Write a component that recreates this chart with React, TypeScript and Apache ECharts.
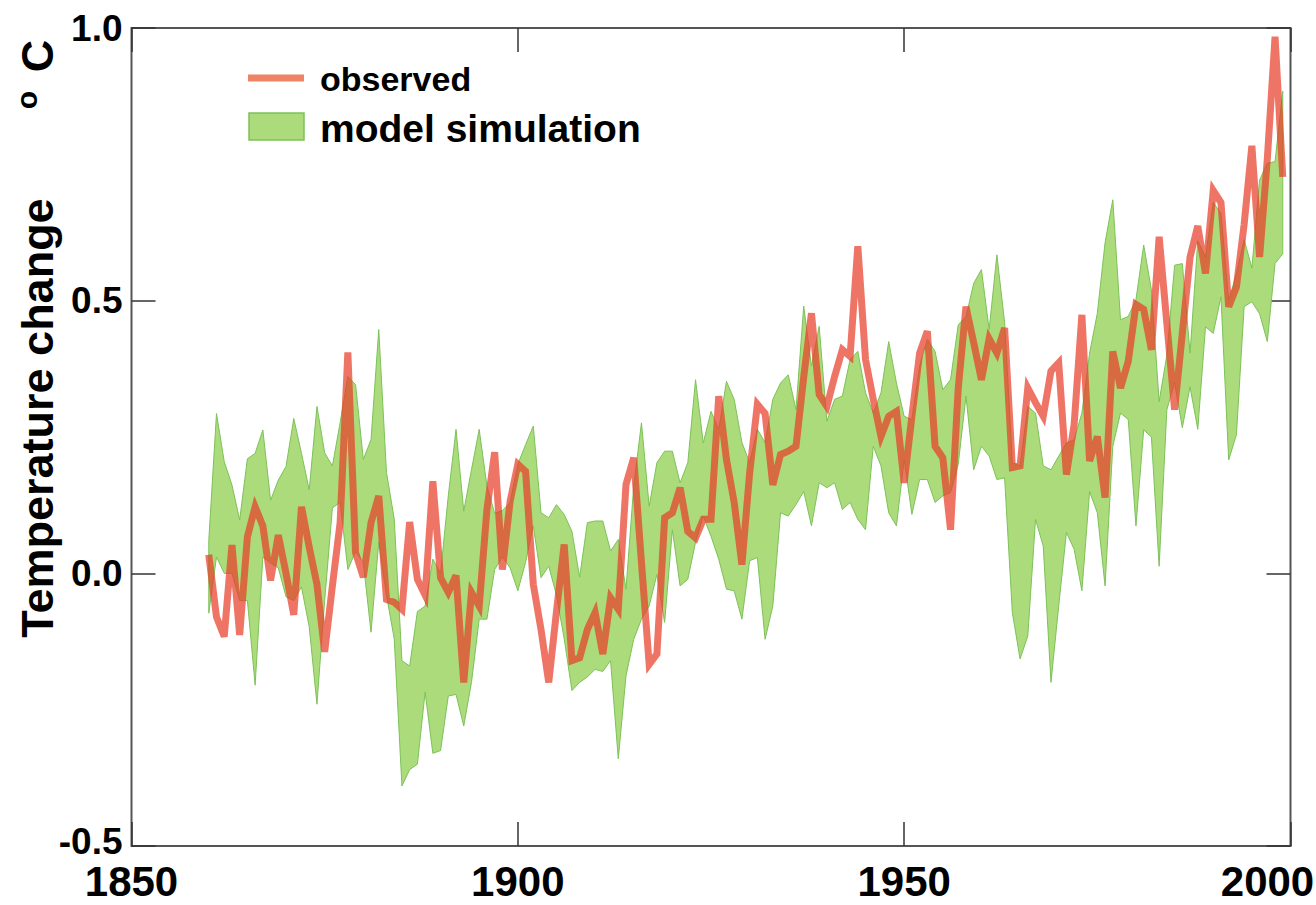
import React, { useEffect, useRef } from "react";
import * as echarts from "echarts";

const FIRST_YEAR = 1860;

const observed = [
  0.034, -0.08, -0.116, 0.052, -0.113, 0.067, 0.122, 0.087, -0.013, 0.07,
  0.0, -0.076, 0.122, 0.048, -0.02, -0.144, -0.023, 0.093, 0.405, 0.038,
  -0.007, 0.093, 0.142, -0.048, -0.053, -0.066, 0.094, -0.011, -0.04, 0.169,
  -0.008, -0.035, -0.004, -0.2, -0.035, -0.06, 0.117, 0.222, 0.007, 0.132,
  0.2, 0.187, -0.02, -0.103, -0.2, -0.07, 0.053, -0.16, -0.155, -0.103,
  -0.072, -0.148, -0.045, -0.066, 0.163, 0.212, 0.02, -0.167, -0.148, 0.102,
  0.111, 0.157, 0.077, 0.065, 0.099, 0.099, 0.325, 0.209, 0.13, 0.016,
  0.184, 0.31, 0.293, 0.162, 0.218, 0.224, 0.233, 0.36, 0.477, 0.328,
  0.306, 0.361, 0.41, 0.398, 0.6, 0.392, 0.319, 0.251, 0.288, 0.297,
  0.166, 0.288, 0.404, 0.444, 0.233, 0.212, 0.08, 0.34, 0.489, 0.423,
  0.355, 0.43, 0.404, 0.45, 0.194, 0.197, 0.34, 0.313, 0.288, 0.371,
  0.386, 0.181, 0.273, 0.474, 0.206, 0.251, 0.139, 0.407, 0.34, 0.389,
  0.493, 0.484, 0.41, 0.617, 0.458, 0.3, 0.44, 0.58, 0.637, 0.55,
  0.702, 0.68, 0.489, 0.525, 0.64, 0.784, 0.58, 0.76, 0.984, 0.727,
];

const modelUpper = [
  0.06, 0.293, 0.205, 0.162, 0.098, 0.21, 0.22, 0.263, 0.134, 0.171,
  0.196, 0.284, 0.22, 0.153, 0.306, 0.221, 0.197, 0.276, 0.361, 0.346,
  0.209, 0.245, 0.447, 0.185, 0.1, -0.16, -0.17, -0.07, -0.06, 0.026,
  0.0, 0.142, 0.264, 0.114, 0.19, 0.264, 0.16, 0.11, 0.115, 0.13,
  0.2, 0.236, 0.27, 0.111, 0.102, 0.126, 0.108, 0.077, -0.007, 0.093,
  0.096, 0.096, 0.041, 0.062, -0.029, 0.16, 0.276, 0.123, 0.203, 0.224,
  0.224, 0.166, 0.203, 0.355, 0.239, 0.297, 0.264, 0.352, 0.319, 0.24,
  0.203, 0.264, 0.24, 0.319, 0.349, 0.364, 0.3, 0.49, 0.38, 0.453,
  0.279, 0.319, 0.325, 0.392, 0.407, 0.331, 0.294, 0.331, 0.425, 0.349,
  0.288, 0.282, 0.38, 0.429, 0.407, 0.337, 0.355, 0.456, 0.47, 0.532,
  0.557, 0.447, 0.584, 0.46, 0.203, 0.197, 0.306, 0.294, 0.197, 0.19,
  0.215, 0.239, 0.245, 0.294, 0.404, 0.477, 0.606, 0.685, 0.465, 0.471,
  0.502, 0.602, 0.52, 0.315, 0.4, 0.565, 0.568, 0.404, 0.61, 0.58,
  0.68, 0.66, 0.5, 0.55, 0.612, 0.56, 0.721, 0.752, 0.755, 0.884,
];

const modelLower = [
  -0.073, 0.03, 0.0, 0.0, -0.05, -0.05, -0.205, 0.03, 0.019, 0.01,
  -0.043, -0.05, -0.025, -0.098, -0.24, -0.05, 0.12, 0.13, 0.007, 0.04,
  0.02, -0.108, 0.057, -0.04, -0.12, -0.39, -0.36, -0.35, -0.218, -0.33,
  -0.325, -0.225, -0.222, -0.28, -0.2, -0.084, -0.084, 0.007, 0.03, 0.01,
  -0.032, 0.02, 0.087, -0.008, 0.013, -0.04, -0.12, -0.215, -0.2, -0.19,
  -0.176, -0.18, -0.16, -0.34, -0.188, -0.121, -0.084, -0.06, -0.002, -0.09,
  0.08, -0.023, -0.011, 0.057, 0.105, 0.068, 0.026, -0.029, -0.032, -0.084,
  0.023, 0.029, -0.121, -0.06, 0.111, 0.105, 0.126, 0.15, 0.087, 0.166,
  0.157, 0.166, 0.117, 0.13, 0.099, 0.08, 0.233, 0.197, 0.111, 0.087,
  0.209, 0.108, 0.172, 0.172, 0.13, 0.142, 0.148, 0.2, 0.325, 0.19,
  0.233, 0.215, 0.172, 0.175, -0.072, -0.157, -0.115, 0.099, 0.05, -0.2,
  -0.06, 0.075, 0.044, -0.032, 0.15, 0.111, -0.023, 0.233, 0.294, 0.282,
  0.087, 0.263, 0.25, 0.013, 0.3, 0.35, 0.267, 0.342, 0.264, 0.452,
  0.44, 0.507, 0.208, 0.254, 0.489, 0.498, 0.476, 0.425, 0.568, 0.586,
];

const xTicks = { min: 1850, max: 2000, interval: 50 };
const yTicks = { min: -0.5, max: 1.0, interval: 0.5 };

const years = observed.map((_, i) => FIRST_YEAR + i);

const BAND_FILL = "#abdb7a";
const BAND_EDGE = "#7cc25a";
const OBS_COLOR = "rgba(232,62,42,0.72)";
const FONT = "Liberation Sans, Arial, sans-serif";

export default function App() {
  const ref = useRef<HTMLDivElement>(null);

  useEffect(() => {
    if (!ref.current) return;
    const chart = echarts.init(ref.current, undefined, { renderer: "svg" });
    const tickStyle = { show: true, inside: true, length: 24, lineStyle: { color: "#333", width: 1.5 } };
    const hiddenLine = { show: false, onZero: false };
    const xLabelFont = { color: "#000", fontSize: 42, lineHeight: 34, fontWeight: "bold", fontFamily: FONT };
    const yLabelFont = { color: "#000", fontSize: 37, lineHeight: 28, fontWeight: "bold", fontFamily: FONT };
    const option: any = {
      animation: false,
      backgroundColor: "#ffffff",
      grid: {
        left: 131.5,
        right: 25.5,
        top: 28,
        bottom: 59,
        containLabel: false,
        outerBoundsMode: "none",
        show: true,
        borderColor: "#555",
        borderWidth: 2,
        backgroundColor: "transparent",
      },
      xAxis: [
        {
          type: "value",
          min: xTicks.min,
          max: xTicks.max,
          interval: xTicks.interval,
          position: "bottom",
          axisLine: hiddenLine,
          axisTick: tickStyle,
          splitLine: { show: false },
          axisLabel: {
            ...xLabelFont,
            margin: 18,
            formatter: (v: number) => (v === xTicks.max ? `{last|${v}}` : String(v)),
            rich: {
              last: { ...xLabelFont, padding: [0, 46, 0, 0] },
            },
          },
        },
        {
          type: "value",
          min: xTicks.min,
          max: xTicks.max,
          interval: xTicks.interval,
          position: "top",
          axisLine: hiddenLine,
          axisTick: tickStyle,
          splitLine: { show: false },
          axisLabel: { show: false },
        },
      ],
      yAxis: [
        {
          type: "value",
          min: yTicks.min,
          max: yTicks.max,
          interval: yTicks.interval,
          position: "left",
          axisLine: hiddenLine,
          axisTick: tickStyle,
          splitLine: { show: false },
          axisLabel: {
            ...yLabelFont,
            margin: 9,
            formatter: (v: number) =>
              v === yTicks.min ? `{first|${v.toFixed(1)}}` : v.toFixed(1),
            rich: {
              first: { ...yLabelFont, padding: [0, 0, 10, 0] },
            },
          },
        },
        {
          type: "value",
          min: yTicks.min,
          max: yTicks.max,
          interval: yTicks.interval,
          position: "right",
          axisLine: hiddenLine,
          axisTick: tickStyle,
          splitLine: { show: false },
          axisLabel: { show: false },
        },
      ],
      series: [
        {
          name: "model simulation",
          type: "custom",
          data: years.map((y, i) => [y, modelUpper[i], modelLower[i]]),
          encode: { x: 0, y: [1, 2] },
          z: 1,
          renderItem: (params: any, api: any) => {
            if (params.dataIndex !== 0) return null;
            const top = years.map((y, i) => api.coord([y, modelUpper[i]]));
            const bottom = years.map((y, i) => api.coord([y, modelLower[i]])).reverse();
            return {
              type: "polygon",
              shape: { points: top.concat(bottom) },
              style: { fill: BAND_FILL, stroke: BAND_EDGE, lineWidth: 1 },
            };
          },
        },
        {
          name: "observed",
          type: "line",
          data: years.map((y, i) => [y, observed[i]]),
          symbol: "none",
          lineStyle: { color: OBS_COLOR, width: 7, join: "miter" },
          z: 3,
        },
      ],
      graphic: [
        {
          type: "line",
          shape: { x1: 248, y1: 78, x2: 304, y2: 78 },
          style: { stroke: "#ef8366", lineWidth: 7 },
        },
        {
          type: "text",
          x: 320,
          y: 79,
          style: {
            text: "observed",
            fontSize: 34,
            fontWeight: "bold",
            fontFamily: FONT,
            fill: "#000",
            verticalAlign: "middle",
          },
        },
        {
          type: "rect",
          shape: { x: 249, y: 113, width: 55, height: 27 },
          style: { fill: BAND_FILL, stroke: BAND_EDGE, lineWidth: 1.5 },
        },
        {
          type: "text",
          x: 320,
          y: 128,
          style: {
            text: "model simulation",
            fontSize: 39,
            fontWeight: "bold",
            fontFamily: FONT,
            fill: "#000",
            verticalAlign: "middle",
          },
        },
        {
          type: "text",
          x: 37,
          y: 418,
          rotation: Math.PI / 2,
          style: {
            text: "Temperature change",
            fontSize: 45,
            fontWeight: "bold",
            fontFamily: FONT,
            fill: "#000",
            align: "center",
            verticalAlign: "middle",
          },
        },
        {
          type: "text",
          x: 26,
          y: 100,
          rotation: Math.PI / 2,
          style: {
            text: "o",
            fontSize: 30,
            fontWeight: "bold",
            fontFamily: FONT,
            fill: "#000",
            align: "center",
            verticalAlign: "middle",
          },
        },
        {
          type: "text",
          x: 37,
          y: 56,
          rotation: Math.PI / 2,
          style: {
            text: "C",
            fontSize: 45,
            fontWeight: "bold",
            fontFamily: FONT,
            fill: "#000",
            align: "center",
            verticalAlign: "middle",
          },
        },
      ],
    };
    chart.setOption(option);
    return () => chart.dispose();
  }, []);

  return (
    <div
      ref={ref}
      style={{ position: "fixed", left: 0, top: 0, width: 1316, height: 905, background: "#fff" }}
    />
  );
}
